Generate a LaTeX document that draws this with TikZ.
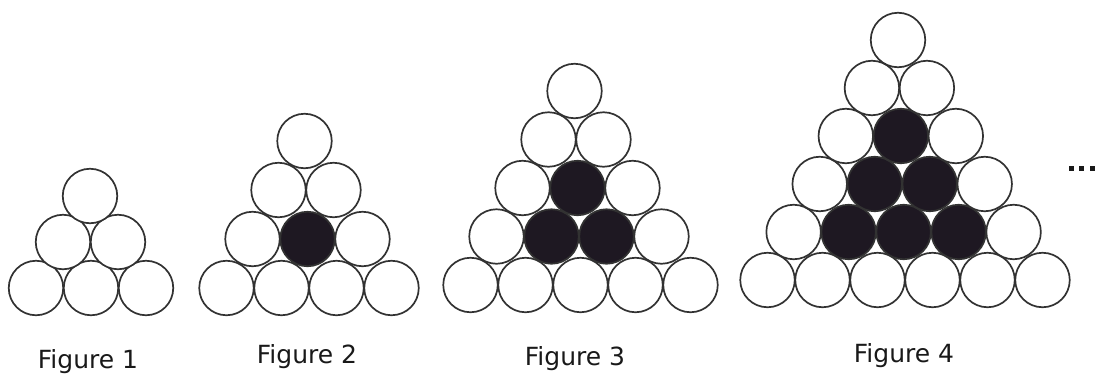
\documentclass[tikz,border=0pt]{standalone}
\usepackage{fontspec}
\setmainfont{DejaVu Sans}
\definecolor{ink}{RGB}{50,50,50}
\definecolor{ballfill}{RGB}{30,24,34}
\definecolor{labink}{RGB}{25,25,25}
\tikzset{
  ball/.style={circle, draw=ink, line width=1.7pt, minimum size=54.5pt, inner sep=0pt, outer sep=0pt, fill=white},
  darkball/.style={ball, fill=ballfill},
  lab/.style={anchor=base, font=\fontsize{25}{30}\selectfont, text=labink, inner sep=0pt},
  dotsq/.style={rectangle, fill=black!90, minimum size=5pt, inner sep=0pt},
}
% #1 name, #2 rows, #3 base centre x, #4 base y, #5 row spacing, #6 skew per row
\newcommand\drawpyramid[6]{%
  \pgfmathtruncatemacro\lastrow{#2-1}
  \foreach \r in {0,...,\lastrow}{
    \pgfmathtruncatemacro\lasti{#2-\r-1}
    \foreach \i in {0,...,\lasti}{
      \pgfmathsetmacro\px{#3+(\i-\lasti/2)*55-#6*\r}
      \pgfmathsetmacro\py{#4-\r*#5}
      \pgfmathtruncatemacro\sh{and(and(\r>0,\i>0),\i<\lasti)}
      \ifnum\sh=1
        \node[darkball] (#1-\r-\i) at (\px,\py) {};
      \else
        \node[ball] (#1-\r-\i) at (\px,\py) {};
      \fi
    }
  }
}
\begin{document}
\begin{tikzpicture}[x=1pt,y=-1pt]
\useasboundingbox (0,0) rectangle (1097,378);
\drawpyramid{fa}{3}{91}{288}{46}{0.5}
\drawpyramid{fb}{4}{309}{288}{49}{1.5}
\drawpyramid{fc}{5}{580.5}{285}{48.5}{1.5}
\drawpyramid{fd}{6}{905}{280}{48}{1.4}
\node[lab] (la) at (88,368) {Figure 1};
\node[lab] (lb) at (307,363) {Figure 2};
\node[lab] (lc) at (575,365) {Figure 3};
\node[lab] (ld) at (904,362) {Figure 4};
\node[dotsq] (d1) at (1071.5,168) {};
\node[dotsq] (d2) at (1081.5,168) {};
\node[dotsq] (d3) at (1092,168) {};
\end{tikzpicture}
\end{document}
